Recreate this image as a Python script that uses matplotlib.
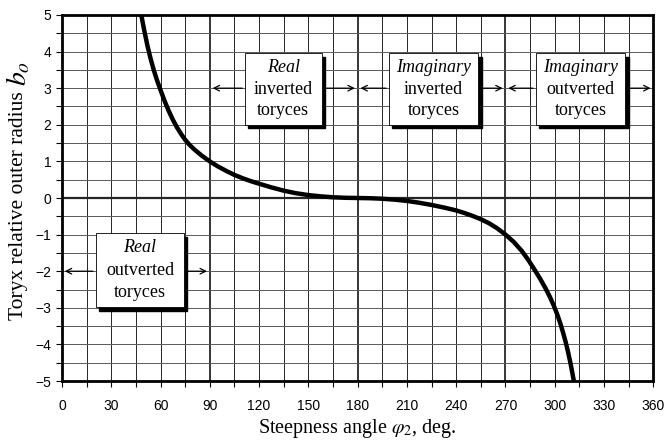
import numpy as np
import matplotlib
matplotlib.use("Agg")
import matplotlib.pyplot as plt
from matplotlib.patches import Rectangle

# curve
angle = [48.3, 50, 52, 54, 56, 58, 60, 62.5, 65, 67.5, 70, 72.5, 75, 77.5,
         80, 85, 90, 95, 100, 105, 110, 115, 120, 127.5, 135, 142.5, 150,
         157.5, 165, 172.5, 180, 187.5, 195, 202.5, 210, 217.5, 225, 232.5,
         240, 245, 250, 255, 260, 265, 270, 275, 280, 284, 288, 291, 294.4,
         297, 299.4, 301.5, 303.4, 305, 306.6, 308, 309.5, 311, 311.6]
radius = [5.0, 4.6, 4.17, 3.8, 3.48, 3.2, 2.95, 2.65, 2.38, 2.14, 1.93, 1.75,
          1.59, 1.46, 1.35, 1.16, 1.0, 0.86, 0.74, 0.63, 0.54, 0.46, 0.39,
          0.29, 0.2, 0.13, 0.08, 0.045, 0.02, 0.006, 0.0, -0.006, -0.02,
          -0.045, -0.08, -0.13, -0.19, -0.26, -0.34, -0.41, -0.49, -0.58,
          -0.69, -0.83, -1.0, -1.2, -1.45, -1.7, -1.98, -2.2, -2.47, -2.7,
          -2.94, -3.18, -3.43, -3.67, -3.93, -4.19, -4.5, -4.85, -5.0]

x_ticks = list(range(0, 361, 30))
y_ticks = list(range(-5, 6))

# region labels: (first word, rest, x from, x to, y of arrow, box x0, box x1, box y0, box y1)
regions = [
    ("Real", ["inverted", "toryces"], 90, 180, 3, 111.5, 158, 2.0, 3.95),
    ("Imaginary", ["inverted", "toryces"], 180, 270, 3, 199, 253.5, 2.0, 3.95),
    ("Imaginary", ["outverted", "toryces"], 270, 360, 3, 288.5, 343, 2.0, 3.95),
    ("Real", ["outverted", "toryces"], 0, 90, -2, 20.5, 74.5, -2.98, -0.96),
]

plt.rcParams['mathtext.fontset'] = 'stix'
plt.rcParams['font.family'] = 'Liberation Sans'
serif = 'Liberation Serif'

fig = plt.figure(figsize=(6.66, 4.40), dpi=100)
ax = fig.add_axes([0.093, 0.134, 0.888, 0.832])

# grid
for xv in np.arange(15, 360, 15):
    lw = 1.3 if xv in (90, 180, 270) else 0.7
    ax.axvline(xv, color='0.15', lw=lw, zorder=1)
for yv in np.arange(-4.5, 5, 0.5):
    lw = 1.6 if yv == 0 else 0.7
    ax.axhline(yv, color='0.15' if yv == 0 else '0.35', lw=lw, zorder=1)

ax.plot(angle, radius, color='black', lw=3.2, zorder=3, solid_capstyle='butt',
        solid_joinstyle='round')

for first, rest, xa, xb, ya, bx0, bx1, by0, by1 in regions:
    # shadow + box
    ax.add_patch(Rectangle((bx0 + 1.9, by0 - 0.1), bx1 - bx0, by1 - by0,
                           facecolor='black', edgecolor='black', zorder=4))
    ax.add_patch(Rectangle((bx0, by0), bx1 - bx0, by1 - by0,
                           facecolor='white', edgecolor='black', lw=0.6, zorder=5))
    cx = (bx0 + bx1) / 2
    h = by1 - by0
    ax.text(cx, by1 - h * 0.2, first, ha='center', va='center', fontsize=13,
            family=serif, style='italic', zorder=6)
    ax.text(cx, by1 - h * 0.5, rest[0], ha='center', va='center', fontsize=13,
            family=serif, zorder=6)
    ax.text(cx, by1 - h * 0.8, rest[1], ha='center', va='center', fontsize=13,
            family=serif, zorder=6)
    ax.annotate('', xy=(xa, ya), xytext=(bx0, ya),
                arrowprops=dict(arrowstyle='->', lw=0.9, color='black'), zorder=6)
    ax.annotate('', xy=(xb, ya), xytext=(bx1, ya),
                arrowprops=dict(arrowstyle='->', lw=0.9, color='black'), zorder=6)

ax.set_xlim(0, 360)
ax.set_ylim(-5, 5)
ax.set_xticks(x_ticks)
ax.set_xticks(np.arange(0, 361, 15), minor=True)
ax.set_yticks(y_ticks)
ax.set_yticks(np.arange(-5, 5.1, 0.5), minor=True)
ax.tick_params(axis='both', which='both', direction='out', length=4, width=0.8,
               labelsize=10)
ax.tick_params(axis='x', pad=9)
for sp in ax.spines.values():
    sp.set_linewidth(2)

# x label placed by hand so the descenders stay inside the figure
fig.text(0.093 + 0.888 / 2, 1 - 433 / 440, r'Steepness angle $\varphi_2$, deg.',
         ha='center', va='baseline', family=serif, fontsize=14.5)

# y label with an enlarged b_o at its end
ylab = fig.text(19 / 666, 1 - 320 / 440, 'Toryx relative outer radius ',
                rotation=90, ha='center', va='bottom', family=serif, fontsize=15.5)
fig.canvas.draw()
bb = ylab.get_window_extent(fig.canvas.get_renderer())
fig.text(19 / 666, bb.y1 / fig.bbox.height, r'$b_o$', rotation=90,
         ha='center', va='bottom', fontsize=20)

fig.savefig('out.png', dpi=100)
